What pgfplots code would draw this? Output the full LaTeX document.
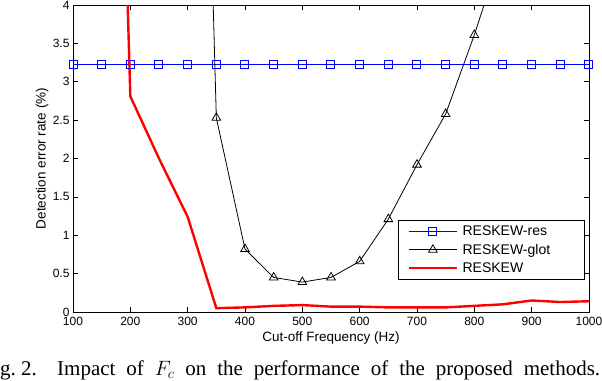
\documentclass[border=0pt]{standalone}
\usepackage{pgfplots}
\pgfplotsset{compat=1.18}
\usepackage{fontspec}
\setmainfont{Liberation Sans}
\newfontfamily\capfont{Liberation Serif}

\begin{document}
\begin{tikzpicture}
\useasboundingbox (0,0) rectangle (602pt,-380pt);
\clip (0,0) rectangle (602pt,-380pt);
\begin{axis}[
  at={(73pt,-5pt)}, anchor=north west,
  scale only axis, width=516pt, height=307pt,
  xmin=100, xmax=1000, ymin=0, ymax=4,
  xtick={100,200,300,400,500,600,700,800,900,1000},
  ytick={0,0.5,1,1.5,2,2.5,3,3.5,4},
  tick align=inside,
  major tick length=5pt,
  axis line style={line width=0.8pt},
  every tick/.style={black, line width=0.6pt},
  /pgf/number format/assume math mode=true,
  ticklabel style={font=\fontsize{12}{14}\selectfont},
  xticklabel style={/pgf/number format/set thousands separator={}, yshift=-2pt},
  xlabel={Cut-off Frequency (Hz)},
  ylabel={Detection error rate (\%)},
  label style={font=\fontsize{13.5}{16}\selectfont},
  xlabel style={at={(axis description cs:0.5,0)}, anchor=base, yshift=-29pt},
  ylabel style={at={(axis description cs:-0.0529,0.5)}, anchor=base, rotate=0},
  legend style={at={(rel axis cs:0.992,0.107)}, anchor=south east, draw=black, line width=0.6pt,
    font=\fontsize{14}{16}\selectfont, inner xsep=9pt, inner ysep=3pt, row sep=3pt,
    /tikz/every odd column/.append style={column sep=2.5pt}},
  legend cell align=left,
  legend image code/.code={\draw[mark repeat=2,mark phase=2,#1] plot coordinates {(0pt,0pt) (24pt,0pt) (48pt,0pt)};},
]
\addplot[blue, line width=1pt, mark=square, mark size=4pt, mark options={solid}] coordinates {
(100,3.23)(150,3.23)(200,3.23)(250,3.23)(300,3.23)(350,3.23)(400,3.23)(450,3.23)(500,3.23)(550,3.23)
(600,3.23)(650,3.23)(700,3.23)(750,3.23)(800,3.23)(850,3.23)(900,3.23)(950,3.23)(1000,3.23)};
\addlegendentry[text width=111pt]{RESKEW-res}
\addplot[black, line width=0.8pt, mark=triangle, mark size=5pt] coordinates {
(300,16)(350,2.53)(400,0.82)(450,0.45)(500,0.39)(550,0.45)(600,0.66)(650,1.21)(700,1.92)(750,2.58)(800,3.61)(850,4.76)};
\addlegendentry[text width=111pt]{RESKEW-glot}
\addplot[red, line width=2.4pt, mark=none] coordinates {
(150,15.7)(200,2.81)(250,2.0)(300,1.24)(350,0.05)(400,0.06)(450,0.08)(500,0.09)(550,0.07)(600,0.07)
(650,0.06)(700,0.06)(750,0.06)(800,0.08)(850,0.10)(900,0.15)(950,0.13)(1000,0.14)};
\addlegendentry[text width=111pt]{RESKEW}
\end{axis}
\node[anchor=base west, inner sep=0pt, font=\capfont\fontsize{21}{25}\selectfont] at (-17.5pt,-375pt) {Fig.~2.};
\node[anchor=base west, inner sep=0pt, font=\capfont\fontsize{21}{25}\selectfont] at (57pt,-375pt)
  {\makebox[543pt][s]{Impact of $F_c$ on the performance of the proposed methods.}};
\end{tikzpicture}
\end{document}
